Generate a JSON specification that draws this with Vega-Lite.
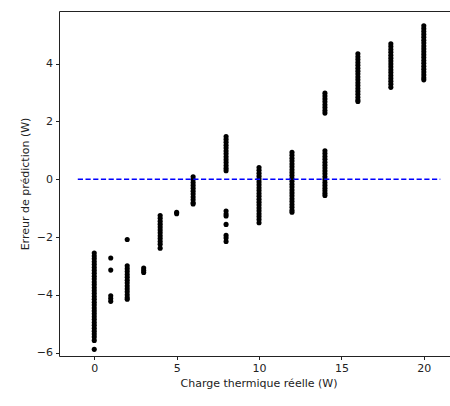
{
  "$schema": "https://vega.github.io/schema/vega-lite/v6.json",
  "width": 391,
  "height": 345,
  "autosize": "none",
  "padding": {"left": 59, "top": 11, "right": 0, "bottom": 50},
  "background": "white",
  "config": {
    "font": "DejaVu Sans",
    "view": {"stroke": null},
    "axis": {
      "grid": false,
      "domain": true,
      "domainColor": "#222222",
      "domainWidth": 1,
      "tickColor": "#222222",
      "tickSize": 3.5,
      "labelColor": "#222222",
      "titleColor": "#222222",
      "labelFontSize": 11,
      "titleFontSize": 11,
      "titleFontWeight": "normal",
      "labelFont": "DejaVu Sans",
      "titleFont": "DejaVu Sans"
    }
  },
  "resolve": {"axis": {"x": "independent", "y": "independent"}},
  "datasets": {
    "pts": [
      {"x":0,"y":-2.55},{"x":0,"y":-2.65},{"x":0,"y":-2.75},{"x":0,"y":-2.85},{"x":0,"y":-2.95},{"x":0,"y":-3.05},{"x":0,"y":-3.15},{"x":0,"y":-3.25},{"x":0,"y":-3.35},{"x":0,"y":-3.45},{"x":0,"y":-3.55},{"x":0,"y":-3.65},{"x":0,"y":-3.75},{"x":0,"y":-3.85},{"x":0,"y":-3.95},{"x":0,"y":-4.05},{"x":0,"y":-4.15},{"x":0,"y":-4.25},{"x":0,"y":-4.35},{"x":0,"y":-4.45},{"x":0,"y":-4.55},{"x":0,"y":-4.65},{"x":0,"y":-4.75},{"x":0,"y":-4.85},{"x":0,"y":-4.95},{"x":0,"y":-5.05},{"x":0,"y":-5.15},{"x":0,"y":-5.25},{"x":0,"y":-5.35},{"x":0,"y":-5.45},{"x":0,"y":-5.57},{"x":0,"y":-5.88},
      {"x":1,"y":-2.72},{"x":1,"y":-3.14},{"x":1,"y":-4.03},{"x":1,"y":-4.12},{"x":1,"y":-4.22},
      {"x":2,"y":-2.08},{"x":2,"y":-2.99},{"x":2,"y":-3.09},{"x":2,"y":-3.19},{"x":2,"y":-3.29},{"x":2,"y":-3.39},{"x":2,"y":-3.49},{"x":2,"y":-3.59},{"x":2,"y":-3.69},{"x":2,"y":-3.79},{"x":2,"y":-3.89},{"x":2,"y":-3.99},{"x":2,"y":-4.09},{"x":2,"y":-4.15},
      {"x":3,"y":-3.07},{"x":3,"y":-3.15},{"x":3,"y":-3.22},
      {"x":4,"y":-1.25},{"x":4,"y":-1.35},{"x":4,"y":-1.45},{"x":4,"y":-1.55},{"x":4,"y":-1.65},{"x":4,"y":-1.75},{"x":4,"y":-1.85},{"x":4,"y":-1.95},{"x":4,"y":-2.05},{"x":4,"y":-2.15},{"x":4,"y":-2.25},{"x":4,"y":-2.38},
      {"x":5,"y":-1.14},{"x":5,"y":-1.19},
      {"x":6,"y":0.09},{"x":6,"y":-0.01},{"x":6,"y":-0.11},{"x":6,"y":-0.21},{"x":6,"y":-0.31},{"x":6,"y":-0.41},{"x":6,"y":-0.51},{"x":6,"y":-0.61},{"x":6,"y":-0.71},{"x":6,"y":-0.81},{"x":6,"y":-0.85},
      {"x":8,"y":1.48},{"x":8,"y":1.38},{"x":8,"y":1.28},{"x":8,"y":1.18},{"x":8,"y":1.08},{"x":8,"y":0.98},{"x":8,"y":0.88},{"x":8,"y":0.78},{"x":8,"y":0.68},{"x":8,"y":0.58},{"x":8,"y":0.48},{"x":8,"y":0.38},{"x":8,"y":0.3},{"x":8,"y":-1.1},{"x":8,"y":-1.2},{"x":8,"y":-1.27},{"x":8,"y":-1.56},{"x":8,"y":-1.94},{"x":8,"y":-2.03},{"x":8,"y":-2.15},
      {"x":10,"y":0.41},{"x":10,"y":0.31},{"x":10,"y":0.21},{"x":10,"y":0.11},{"x":10,"y":0.01},{"x":10,"y":-0.09},{"x":10,"y":-0.19},{"x":10,"y":-0.29},{"x":10,"y":-0.39},{"x":10,"y":-0.49},{"x":10,"y":-0.59},{"x":10,"y":-0.69},{"x":10,"y":-0.79},{"x":10,"y":-0.89},{"x":10,"y":-0.99},{"x":10,"y":-1.09},{"x":10,"y":-1.19},{"x":10,"y":-1.29},{"x":10,"y":-1.39},{"x":10,"y":-1.5},
      {"x":12,"y":0.93},{"x":12,"y":0.83},{"x":12,"y":0.73},{"x":12,"y":0.63},{"x":12,"y":0.53},{"x":12,"y":0.43},{"x":12,"y":0.33},{"x":12,"y":0.23},{"x":12,"y":0.13},{"x":12,"y":0.03},{"x":12,"y":-0.07},{"x":12,"y":-0.17},{"x":12,"y":-0.27},{"x":12,"y":-0.37},{"x":12,"y":-0.47},{"x":12,"y":-0.57},{"x":12,"y":-0.67},{"x":12,"y":-0.77},{"x":12,"y":-0.87},{"x":12,"y":-0.97},{"x":12,"y":-1.07},{"x":12,"y":-1.14},
      {"x":14,"y":2.98},{"x":14,"y":2.88},{"x":14,"y":2.78},{"x":14,"y":2.68},{"x":14,"y":2.58},{"x":14,"y":2.48},{"x":14,"y":2.38},{"x":14,"y":2.29},{"x":14,"y":0.99},{"x":14,"y":0.89},{"x":14,"y":0.79},{"x":14,"y":0.69},{"x":14,"y":0.59},{"x":14,"y":0.49},{"x":14,"y":0.39},{"x":14,"y":0.29},{"x":14,"y":0.19},{"x":14,"y":0.09},{"x":14,"y":-0.01},{"x":14,"y":-0.11},{"x":14,"y":-0.21},{"x":14,"y":-0.31},{"x":14,"y":-0.4},{"x":14,"y":-0.48},{"x":14,"y":-0.56},
      {"x":16,"y":4.34},{"x":16,"y":4.24},{"x":16,"y":4.14},{"x":16,"y":4.04},{"x":16,"y":3.94},{"x":16,"y":3.84},{"x":16,"y":3.74},{"x":16,"y":3.64},{"x":16,"y":3.54},{"x":16,"y":3.44},{"x":16,"y":3.34},{"x":16,"y":3.24},{"x":16,"y":3.14},{"x":16,"y":3.04},{"x":16,"y":2.94},{"x":16,"y":2.84},{"x":16,"y":2.74},{"x":16,"y":2.69},
      {"x":18,"y":4.69},{"x":18,"y":4.59},{"x":18,"y":4.49},{"x":18,"y":4.39},{"x":18,"y":4.29},{"x":18,"y":4.19},{"x":18,"y":4.09},{"x":18,"y":3.99},{"x":18,"y":3.89},{"x":18,"y":3.79},{"x":18,"y":3.69},{"x":18,"y":3.59},{"x":18,"y":3.49},{"x":18,"y":3.39},{"x":18,"y":3.29},{"x":18,"y":3.18},
      {"x":20,"y":5.31},{"x":20,"y":5.21},{"x":20,"y":5.11},{"x":20,"y":5.01},{"x":20,"y":4.91},{"x":20,"y":4.81},{"x":20,"y":4.71},{"x":20,"y":4.61},{"x":20,"y":4.51},{"x":20,"y":4.41},{"x":20,"y":4.31},{"x":20,"y":4.21},{"x":20,"y":4.11},{"x":20,"y":4.01},{"x":20,"y":3.91},{"x":20,"y":3.81},{"x":20,"y":3.71},{"x":20,"y":3.61},{"x":20,"y":3.51},{"x":20,"y":3.44}
    ],
    "ref": [{"x": -1, "y": 0}, {"x": 21, "y": 0}]
  },
  "layer": [
    {
      "data": {"name": "pts"},
      "mark": {"type": "circle", "color": "black", "opacity": 1, "size": 26},
      "encoding": {
        "x": {
          "field": "x", "type": "quantitative",
          "scale": {"domain": [-2.14, 21.59], "nice": false, "zero": false},
          "axis": {"values": [0, 5, 10, 15, 20], "title": "Charge thermique réelle (W)", "titleX": 199.5, "labelPadding": 3, "titlePadding": 4}
        },
        "y": {
          "field": "y", "type": "quantitative",
          "scale": {"domain": [-6.11, 5.82], "nice": false, "zero": false},
          "axis": {"values": [-6, -4, -2, 0, 2, 4], "title": "Erreur de prédiction (W)", "labelPadding": 3, "titlePadding": 6}
        }
      }
    },
    {
      "data": {"name": "ref"},
      "mark": {"type": "line", "color": "#0000ff", "strokeWidth": 1.6, "strokeDash": [5.2, 2.5]},
      "encoding": {
        "x": {"field": "x", "type": "quantitative",
              "axis": {"orient": "top", "labels": false, "ticks": false, "title": null, "domain": true}},
        "y": {"field": "y", "type": "quantitative", "axis": null}
      }
    }
  ]
}
